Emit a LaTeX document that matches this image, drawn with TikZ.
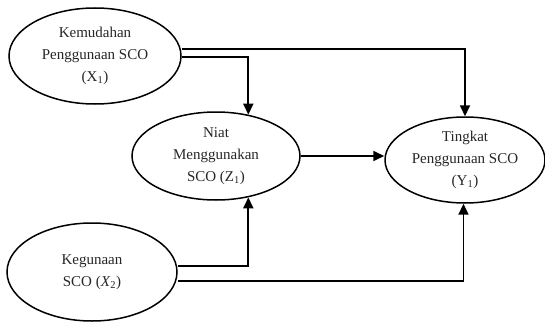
\documentclass[tikz,border=0pt]{standalone}
\usepackage{fontspec}
\setmainfont{Liberation Serif}
\usetikzlibrary{shapes.geometric,arrows.meta}
\begin{document}
\begin{tikzpicture}[x=1pt,y=-1pt,
  var/.style={ellipse,draw,line width=1.5pt,inner sep=0pt,align=center,
    text=black!85,font=\fontsize{15}{22}\selectfont},
  arr/.style={line width=1.8pt,-{Triangle[length=11pt,width=10pt]}}]
\useasboundingbox (0,0) rectangle (545,321);
\node[var,minimum width=172pt,minimum height=96pt] (X1) at (95,56) {Kemudahan\\Penggunaan SCO\\(X\textsubscript{1})};
\node[var,minimum width=168pt,minimum height=88pt] (Z1) at (216,156) {Niat\\Menggunakan\\SCO (Z\textsubscript{1})};
\node[var,minimum width=160pt,minimum height=86pt] (Y1) at (465,160) {Tingkat\\Penggunaan SCO\\(Y\textsubscript{1})};
\node[var,minimum width=170pt,minimum height=98pt] (X2) at (92,272) {Kegunaan\\SCO (\textit{X}\textsubscript{2})};
\draw[arr] ([yshift=7pt]X1.east) -| (Y1.north);
\draw[arr] ([yshift=-1pt]X1.east) -| (Z1.52);
\draw[arr] (Z1.east) -- (Z1.east -| Y1.west);
\draw[arr] ([yshift=6pt]X2.east) -| (Z1.-52);
\draw[arr] ([yshift=-9pt]X2.east) -| (Y1.-92);
\end{tikzpicture}
\end{document}
